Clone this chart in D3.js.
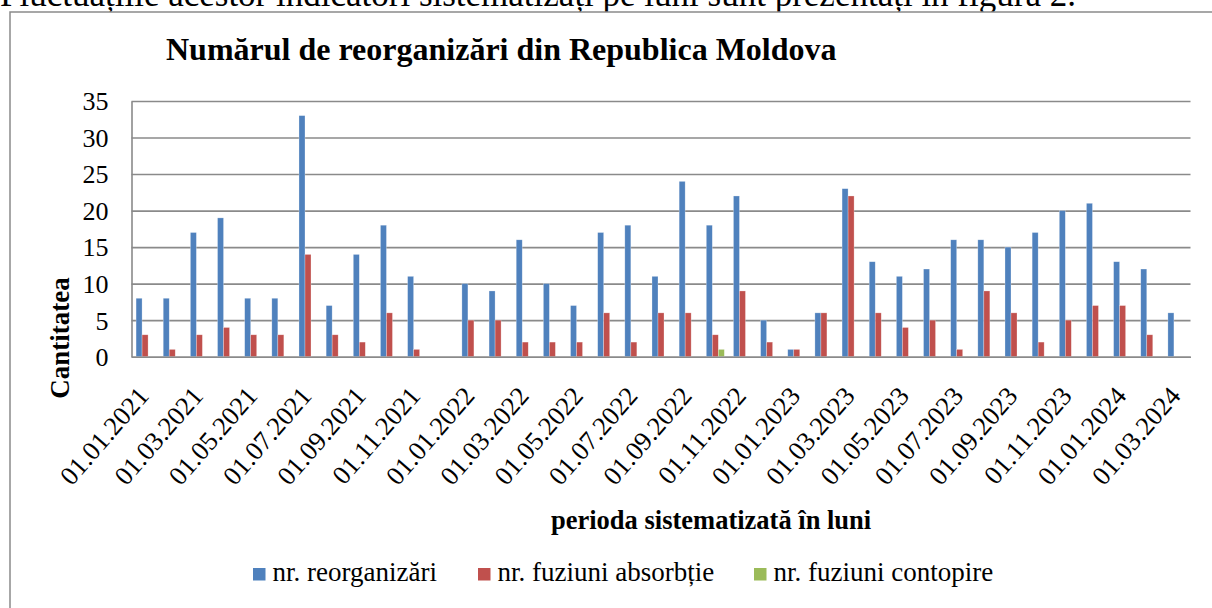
<!DOCTYPE html>
<html>
<head>
<meta charset="utf-8">
<script src="https://cdn.jsdelivr.net/npm/d3@7"></script>
<style>
  body { margin: 0; background: #fff; }
  svg { display: block; }
  svg text { font-family: 'Liberation Serif', 'Times New Roman', serif; fill: #000; }
</style>
</head>
<body>
<svg id="chart" width="1212" height="608"></svg>
<script>
// months 01.01.2021 .. 01.03.2024
const months = [];
for (let yr = 2021; yr <= 2024; yr++) {
    for (let m = 1; m <= 12; m++) {
        if (yr === 2024 && m > 3) break;
        months.push("01." + String(m).padStart(2, "0") + "." + yr);
    }
}

const reorganizari = [8, 8, 17, 19, 8, 8, 33, 7, 14, 18, 11, 0,
    10, 9, 16, 10, 7, 17, 18, 11, 24, 18, 22, 5,
    1, 6, 23, 13, 11, 12, 16, 16, 15, 17, 20, 21,
    13, 12, 6];
const absorbtie = [3, 1, 3, 4, 3, 3, 14, 3, 2, 6, 1, 0,
    5, 5, 2, 2, 2, 6, 2, 6, 6, 3, 9, 2,
    1, 6, 22, 6, 4, 5, 1, 9, 6, 2, 5, 7,
    7, 3, 0];
const contopire = [0, 0, 0, 0, 0, 0, 0, 0, 0, 0, 0, 0,
    0, 0, 0, 0, 0, 0, 0, 0, 0, 1, 0, 0,
    0, 0, 0, 0, 0, 0, 0, 0, 0, 0, 0, 0,
    0, 0, 0];

const seriesNames = ["nr. reorganizări", "nr. fuziuni absorbție", "nr. fuziuni contopire"];
const seriesColors = ["#4F81BD", "#C0504D", "#9BBB59"];
const yTicks = [0, 5, 10, 15, 20, 25, 30, 35];

const data = months.map((m, i) => ({
    month: m,
    values: [reorganizari[i], absorbtie[i], contopire[i]]
}));

const svg = d3.select("#chart");

// cut-off line of document text above the chart
svg.append("text")
    .attr("x", 0)
    .attr("y", 6)
    .style("font-size", "35px")
    .text("Fluctuațiile acestor indicatori sistematizați pe luni sunt prezentați în figura 2.");

// chart frame
svg.append("rect")
    .attr("x", 10).attr("y", 12)
    .attr("width", 1215).attr("height", 610)
    .attr("fill", "#fff")
    .attr("stroke", "#8a8a8a")
    .attr("stroke-width", 1.5);

const plotLeft = 131.5, plotRight = 1190.5, plotTop = 101, plotBottom = 356.7;

const x = d3.scaleBand().domain(months).range([plotLeft, plotRight]).paddingInner(0);
const xSub = d3.scaleBand().domain(d3.range(3)).range([0, x.bandwidth()]).paddingOuter(0.76);
const y = d3.scaleLinear().domain([0, 35]).range([plotBottom, plotTop]);

// gridlines
svg.append("g")
    .attr("transform", `translate(${plotLeft},0)`)
    .call(d3.axisLeft(y).tickValues(yTicks).tickSize(-(plotRight - plotLeft)).tickFormat(""))
    .call(g => g.select(".domain").remove())
    .selectAll("line")
    .attr("stroke", "#8a8a8a")
    .attr("stroke-width", 1.6);

// bars
const groups = svg.append("g").selectAll("g")
    .data(data)
    .enter().append("g")
    .attr("transform", d => `translate(${x(d.month)},0)`);

groups.selectAll("rect")
    .data(d => d.values.map((v, i) => ({ v: v, i: i })).filter(e => e.v > 0))
    .enter().append("rect")
    .attr("x", d => xSub(d.i))
    .attr("y", d => y(d.v))
    .attr("width", xSub.bandwidth())
    .attr("height", d => y(0) - y(d.v))
    .attr("fill", d => seriesColors[d.i])
    .attr("stroke", "rgba(255,255,255,0.45)")
    .attr("stroke-width", 0.6);

// y axis
const yAxis = svg.append("g")
    .attr("transform", `translate(${plotLeft},0)`)
    .call(d3.axisLeft(y).tickValues(yTicks).tickSize(0).tickPadding(23))
    .attr("font-family", null);
yAxis.select(".domain").attr("stroke", "#8a8a8a").attr("stroke-width", 1.6);
yAxis.selectAll("text")
    .attr("dy", "0.34em")
    .style("font-size", "26px");

// x axis
const xAxis = svg.append("g")
    .attr("transform", `translate(0,${plotBottom})`)
    .call(d3.axisBottom(x).tickValues(months.filter((m, i) => i % 2 === 0)).tickSize(0))
    .attr("font-family", null);
xAxis.select(".domain").attr("stroke", "#8a8a8a").attr("stroke-width", 1.6);
xAxis.selectAll("text")
    .attr("x", 0).attr("y", 0).attr("dy", null)
    .attr("transform", "translate(5,40) rotate(-49)")
    .style("text-anchor", "end")
    .style("font-size", "26.5px");

// title
svg.append("text")
    .attr("x", 166)
    .attr("y", 60)
    .style("font-weight", "bold")
    .style("font-size", "32px")
    .text("Numărul de reorganizări din Republica Moldova");

// axis titles
svg.append("text")
    .attr("transform", "translate(69,338) rotate(-90)")
    .style("text-anchor", "middle")
    .style("font-weight", "bold")
    .style("font-size", "27px")
    .text("Cantitatea");

svg.append("text")
    .attr("x", 551)
    .attr("y", 529)
    .style("font-weight", "bold")
    .style("font-size", "26.5px")
    .text("perioda sistematizată în luni");

// legend
const legendX = [253, 478, 754];
const legend = svg.append("g").selectAll("g")
    .data(seriesNames)
    .enter().append("g")
    .attr("transform", (d, i) => `translate(${legendX[i]},568)`);
legend.append("rect")
    .attr("width", 12.5).attr("height", 12.5)
    .attr("fill", (d, i) => seriesColors[i]);
legend.append("text")
    .attr("x", 19.5).attr("y", 13)
    .style("font-size", "27px")
    .text(d => d);
</script>
</body>
</html>
